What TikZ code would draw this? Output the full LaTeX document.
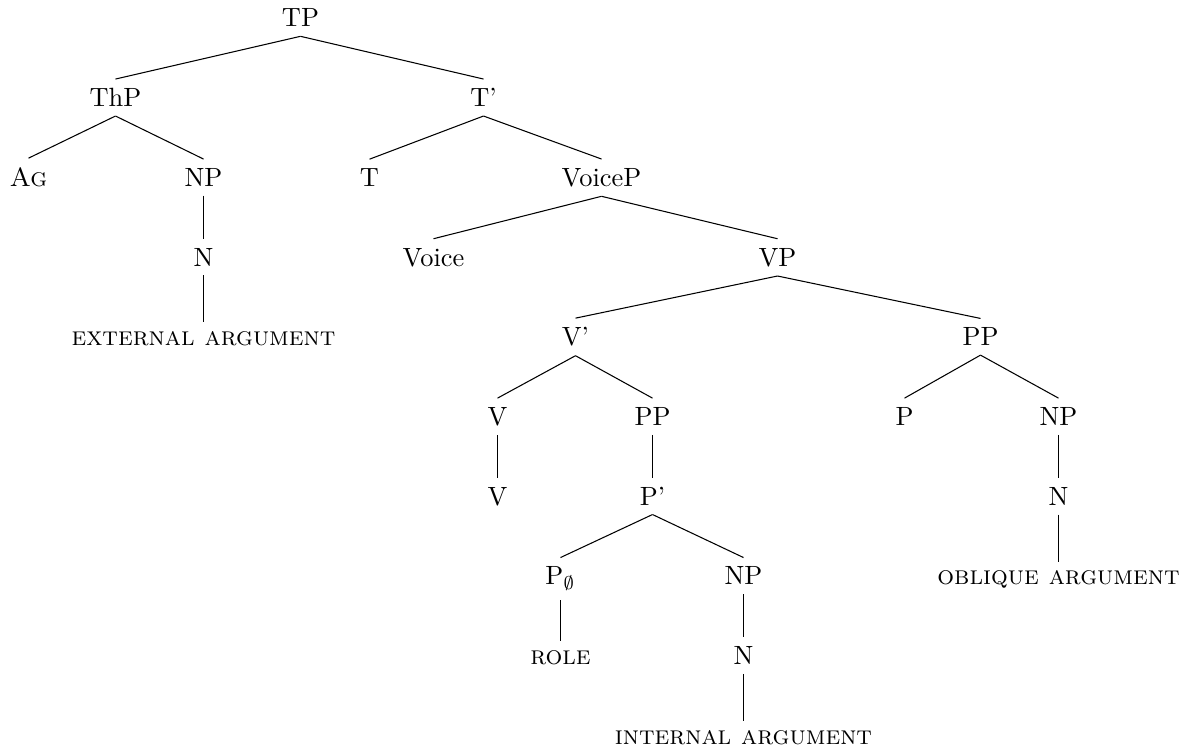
\documentclass[tikz,border=0pt]{standalone}
\usepackage{amsmath,amssymb}
\usepackage{tikz}
\usetikzlibrary{positioning,calc}
\tikzset{
 cat/.style={anchor=base,inner sep=.3333em},
 branch/.style={line width=.4pt}
}

\begin{document}
\begin{tikzpicture}[x=.3788pt,y=-.3788pt]
\useasboundingbox (0,0) rectangle (1184,748);
% categories: name/x/level/label
\foreach \n/\x/\l/\t in {tp/300/0/{TP},
 thp/115/1/{ThP},tbar/483/1/{T'},
 ag/28/2/{\textsc{Ag}},np1/203/2/{NP},t/369/2/{T},voicep/601/2/{VoiceP},
 n1/203/3/{N},voice/433/3/{Voice},vp/777/3/{VP},
 extarg/203/4/{\textsc{external argument}},vbar/575/4/{V'},pp2/980/4/{PP},
 v1/497/5/{V},pp1/652/5/{PP},p2/904/5/{P},np3/1058/5/{NP},
 v2/497/6/{V},pbar/652/6/{P'},n3/1058/6/{N},
 pnull/560/7/{P$_\emptyset$},np2/743/7/{NP},oblarg/1058/7/{\textsc{oblique argument}},
 role/560/8/{\textsc{role}},n2/743/8/{N},
 intarg/743/9/{\textsc{internal argument}}}
 \node[cat] (\n) at (\x+.5,27+79.7*\l) {\t};
% branches
\foreach \a/\b in {tp/thp,tp/tbar,thp/ag,thp/np1,np1/n1,n1/extarg,
 tbar/t,tbar/voicep,voicep/voice,voicep/vp,vp/vbar,vp/pp2,
 vbar/v1,vbar/pp1,v1/v2,pp1/pbar,pbar/pnull,pbar/np2,pnull/role,
 np2/n2,n2/intarg,pp2/p2,pp2/np3,np3/n3,n3/oblarg}
 \draw[branch] (\a.south) -- (\b.north);
\end{tikzpicture}
\end{document}
